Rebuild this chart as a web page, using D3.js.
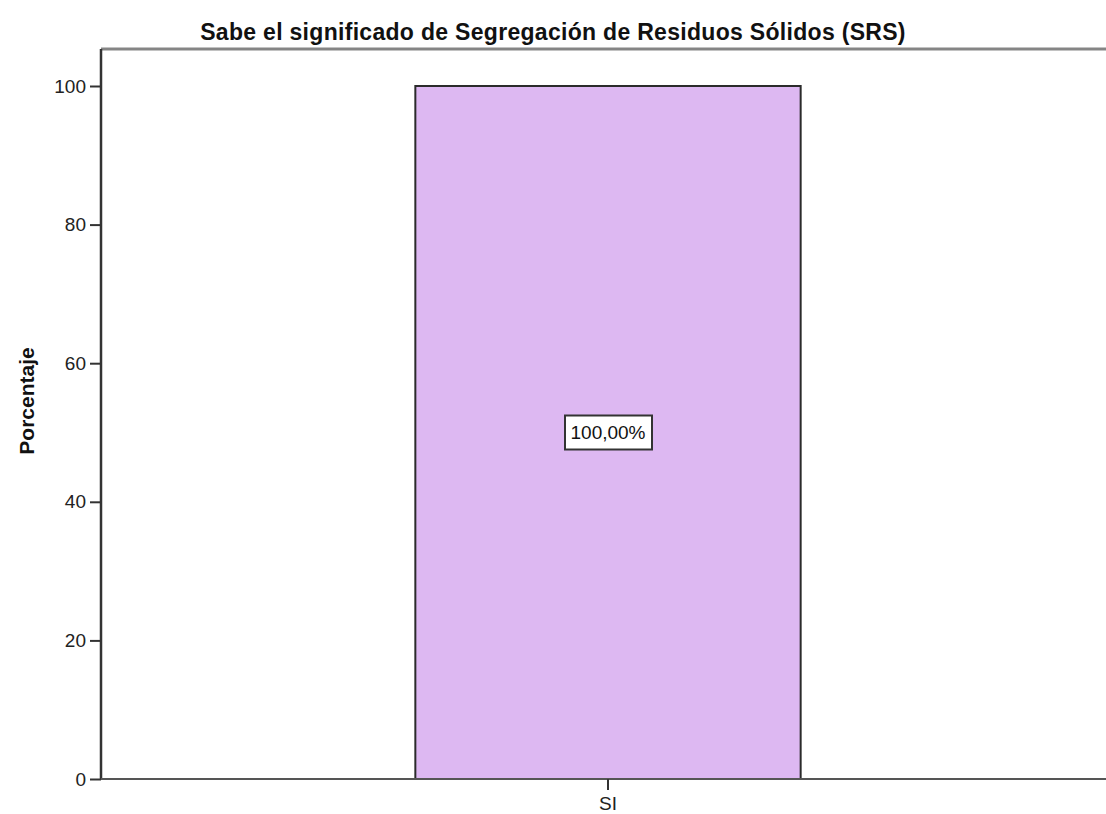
<!DOCTYPE html>
<html>
<head>
<meta charset="utf-8">
<script src="https://cdn.jsdelivr.net/npm/d3@7"></script>
<style>
  body { margin: 0; background: #fff; }
  text { font-family: "Liberation Sans", Arial, sans-serif; }
</style>
</head>
<body>
<svg id="chart"></svg>
<script>
var categories = ["SI"];
var percentages = [100];
var valueLabels = ["100,00%"];
var yTicks = [0, 20, 40, 60, 80, 100];

var width = 1106, height = 814;
var margin = {top: 49, right: -9, bottom: 35, left: 101};

var svg = d3.select("#chart")
    .attr("width", width)
    .attr("height", height);

var x = d3.scaleBand()
    .domain(categories)
    .range([margin.left, width - margin.right])
    .paddingInner(0.62)
    .paddingOuter(0.31);

var y = d3.scaleLinear()
    .domain([0, 100])
    .range([height - margin.bottom, 86]);

// title
svg.append("text")
    .attr("x", 553)
    .attr("y", 40)
    .attr("text-anchor", "middle")
    .style("font-size", "23px")
    .style("font-weight", "bold")
    .style("letter-spacing", "0.3px")
    .style("fill", "#111")
    .text("Sabe el significado de Segregación de Residuos Sólidos (SRS)");

// top frame line
svg.append("line")
    .attr("x1", margin.left).attr("x2", width)
    .attr("y1", margin.top).attr("y2", margin.top)
    .style("stroke", "#858585")
    .style("stroke-width", 3);

// bars
svg.selectAll("rect.bar")
    .data(percentages)
    .enter()
    .append("rect")
    .attr("class", "bar")
    .attr("x", function(d, i) { return x(categories[i]); })
    .attr("width", x.bandwidth())
    .attr("y", function(d) { return y(d); })
    .attr("height", function(d) { return y(0) - y(d); })
    .style("fill", "#ddb8f2")
    .style("stroke", "#2b2b2b")
    .style("stroke-width", 2);

// value labels
percentages.forEach(function(d, i) {
    var cx = x(categories[i]) + x.bandwidth() / 2;
    var cy = y(d / 2);
    var g = svg.append("g").attr("transform", "translate(" + cx + "," + cy + ")");
    g.append("rect")
        .attr("x", -43).attr("y", -17)
        .attr("width", 87).attr("height", 34)
        .style("fill", "#fff")
        .style("stroke", "#333")
        .style("stroke-width", 2);
    g.append("text")
        .attr("text-anchor", "middle")
        .attr("dy", "0.36em")
        .style("font-size", "19px")
        .style("fill", "#111")
        .text(valueLabels[i]);
});

// y axis
var yAxis = svg.append("g")
    .attr("transform", "translate(" + margin.left + ",0)")
    .call(d3.axisLeft(y).tickValues(yTicks).tickSize(11).tickPadding(4));
yAxis.select(".domain").attr("d", "M0," + margin.top + "V" + y(0))
    .style("stroke", "#333").style("stroke-width", 2.5);
yAxis.selectAll(".tick line").style("stroke", "#333").style("stroke-width", 2);
yAxis.selectAll(".tick text").style("font-size", "19px").style("fill", "#222")
    .style("font-family", "Liberation Sans, Arial, sans-serif");

// x axis
var xAxis = svg.append("g")
    .attr("transform", "translate(0," + y(0) + ")")
    .call(d3.axisBottom(x).tickSize(11).tickPadding(7));
xAxis.select(".domain").attr("d", "M" + margin.left + ",0H" + width)
    .style("stroke", "#555").style("stroke-width", 2);
xAxis.selectAll(".tick line").style("stroke", "#333").style("stroke-width", 2);
xAxis.selectAll(".tick text").style("font-size", "19px").style("fill", "#222")
    .style("font-family", "Liberation Sans, Arial, sans-serif");

// y axis title
svg.append("text")
    .attr("transform", "translate(34,401) rotate(-90)")
    .attr("text-anchor", "middle")
    .style("font-size", "21px")
    .style("font-weight", "bold")
    .style("fill", "#111")
    .text("Porcentaje");
</script>
</body>
</html>
